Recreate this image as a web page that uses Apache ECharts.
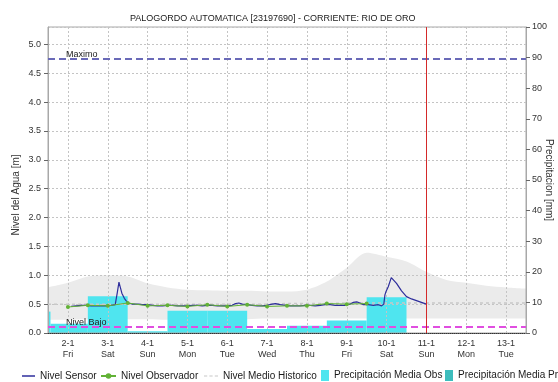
<!DOCTYPE html>
<html>
<head>
<meta charset="utf-8">
<script src="https://cdn.jsdelivr.net/npm/echarts@6/dist/echarts.min.js"></script>
<style>
  html, body { margin: 0; padding: 0; background: #ffffff; }
  #chart { width: 558px; height: 382px; }
</style>
</head>
<body>
<div id="chart"></div>
<script>
// Station: PALOGORDO AUTOMATICA, January 2015

const weekdayNames = ['Sun', 'Mon', 'Tue', 'Wed', 'Thu', 'Fri', 'Sat'];

// Water level from the automatic sensor [m]
const sensorTimes = [
  '2015-01-02 02:00', '2015-01-02 05:00', '2015-01-02 08:00', '2015-01-02 11:00', '2015-01-02 14:00',
  '2015-01-02 17:00', '2015-01-02 20:00', '2015-01-02 23:00', '2015-01-03 02:00', '2015-01-03 04:30',
  '2015-01-03 05:15', '2015-01-03 05:45', '2015-01-03 06:45', '2015-01-03 07:30', '2015-01-03 08:30',
  '2015-01-03 10:00', '2015-01-03 11:00', '2015-01-03 12:30', '2015-01-03 15:00', '2015-01-03 18:00',
  '2015-01-03 21:00', '2015-01-04 00:00', '2015-01-04 03:00', '2015-01-04 06:00', '2015-01-04 09:00',
  '2015-01-04 12:00', '2015-01-04 15:00', '2015-01-04 18:00', '2015-01-04 21:00', '2015-01-05 00:00',
  '2015-01-05 03:00', '2015-01-05 06:00', '2015-01-05 09:00', '2015-01-05 12:00', '2015-01-05 15:00',
  '2015-01-05 18:00', '2015-01-05 21:00', '2015-01-06 00:00', '2015-01-06 03:00', '2015-01-06 05:00',
  '2015-01-06 07:00', '2015-01-06 09:00', '2015-01-06 12:00', '2015-01-06 15:00', '2015-01-06 18:00',
  '2015-01-06 21:00', '2015-01-07 00:00', '2015-01-07 03:00', '2015-01-07 05:00', '2015-01-07 08:00',
  '2015-01-07 11:00', '2015-01-07 14:00', '2015-01-07 17:00', '2015-01-07 20:00', '2015-01-07 23:00',
  '2015-01-08 02:00', '2015-01-08 05:00', '2015-01-08 08:00', '2015-01-08 11:00', '2015-01-08 14:00',
  '2015-01-08 17:00', '2015-01-08 20:00', '2015-01-08 23:00', '2015-01-09 02:00', '2015-01-09 04:00',
  '2015-01-09 06:00', '2015-01-09 08:00', '2015-01-09 10:00', '2015-01-09 13:00', '2015-01-09 16:00',
  '2015-01-09 19:00', '2015-01-09 21:00', '2015-01-09 22:20', '2015-01-09 23:00', '2015-01-09 23:40',
  '2015-01-10 01:00', '2015-01-10 02:50', '2015-01-10 04:00', '2015-01-10 06:00', '2015-01-10 09:00',
  '2015-01-10 12:00', '2015-01-10 15:00', '2015-01-10 18:00', '2015-01-10 21:00', '2015-01-11 00:00'
];
const sensorLevels = [
  0.46, 0.47, 0.48, 0.48, 0.47,
  0.47, 0.47, 0.47, 0.48, 0.49,
  0.52, 0.70, 0.88, 0.80, 0.69,
  0.60, 0.56, 0.52, 0.50, 0.50,
  0.49, 0.49, 0.48, 0.47, 0.47,
  0.48, 0.48, 0.47, 0.47, 0.47,
  0.48, 0.48, 0.47, 0.48, 0.48,
  0.47, 0.47, 0.47, 0.48, 0.51,
  0.52, 0.50, 0.49, 0.48, 0.47,
  0.47, 0.48, 0.50, 0.51, 0.49,
  0.48, 0.47, 0.47, 0.47, 0.48,
  0.48, 0.47, 0.48, 0.49, 0.49,
  0.48, 0.48, 0.48, 0.50, 0.53,
  0.54, 0.52, 0.49, 0.49, 0.48,
  0.49, 0.47, 0.50, 0.66, 0.72,
  0.80, 0.96, 0.93, 0.86, 0.73,
  0.63, 0.59, 0.56, 0.53, 0.50
];

// Readings taken by the observer [m]
const observerTimes = [
  '2015-01-02 00:00', '2015-01-02 12:00', '2015-01-03 00:00', '2015-01-03 12:00',
  '2015-01-04 00:00', '2015-01-04 12:00', '2015-01-05 00:00', '2015-01-05 12:00',
  '2015-01-06 00:00', '2015-01-06 12:00', '2015-01-07 00:00', '2015-01-07 12:00',
  '2015-01-08 00:00', '2015-01-08 12:00', '2015-01-09 00:00', '2015-01-09 12:00'
];
const observerLevels = [
  0.45, 0.48, 0.47, 0.52,
  0.47, 0.48, 0.46, 0.49,
  0.46, 0.49, 0.46, 0.47,
  0.47, 0.51, 0.50, 0.51
];

// Historic mean level and its usual range [m]
const historicTimes = [
  '2015-01-01 12:00', '2015-01-02 00:00', '2015-01-02 12:00', '2015-01-03 00:00', '2015-01-03 12:00',
  '2015-01-04 00:00', '2015-01-04 12:00', '2015-01-05 00:00', '2015-01-05 12:00', '2015-01-06 00:00',
  '2015-01-06 12:00', '2015-01-07 00:00', '2015-01-07 12:00', '2015-01-08 00:00', '2015-01-08 12:00',
  '2015-01-09 00:00', '2015-01-09 12:00', '2015-01-10 00:00', '2015-01-10 12:00', '2015-01-11 00:00',
  '2015-01-11 12:00', '2015-01-12 00:00', '2015-01-12 12:00', '2015-01-13 00:00', '2015-01-13 12:00'
];
const historicMedian = [
  0.50, 0.50, 0.50, 0.50, 0.50,
  0.50, 0.50, 0.50, 0.50, 0.50,
  0.50, 0.50, 0.51, 0.51, 0.51,
  0.52, 0.52, 0.52, 0.52, 0.52,
  0.52, 0.52, 0.52, 0.52, 0.52
];
const historicLow = [
  0.23, 0.23, 0.24, 0.24, 0.24,
  0.24, 0.23, 0.23, 0.23, 0.23,
  0.24, 0.25, 0.25, 0.25, 0.25,
  0.25, 0.25, 0.25, 0.25, 0.25,
  0.25, 0.25, 0.25, 0.25, 0.25
];
const historicHigh = [
  0.79, 0.87, 0.98, 1.00, 0.98,
  0.86, 0.79, 0.75, 0.74, 0.73,
  0.73, 0.72, 0.72, 0.75, 0.89,
  1.13, 1.39, 1.32, 1.24, 1.06,
  0.92, 0.87, 0.82, 0.79, 0.77
];

// Mean observed precipitation per period [mm]
const rainStart = [
  '2015-01-01 12:00', '2015-01-01 13:30', '2015-01-02 12:00', '2015-01-03 12:00', '2015-01-04 12:00',
  '2015-01-05 12:00', '2015-01-06 12:00', '2015-01-07 12:00', '2015-01-08 12:00', '2015-01-09 12:00'
];
const rainEnd = [
  '2015-01-01 13:30', '2015-01-02 12:00', '2015-01-03 12:00', '2015-01-04 12:00', '2015-01-05 12:00',
  '2015-01-06 12:00', '2015-01-07 12:00', '2015-01-08 12:00', '2015-01-09 12:00', '2015-01-10 12:00'
];
const rainObs = [7, 3, 12, 0.6, 7.3, 7.3, 1.3, 2.4, 4.1, 11.7];

// Forecast precipitation (no periods reported)
const rainProStart = [];
const rainProEnd = [];
const rainPro = [];

// Reference levels [m] and the time of the last update
const levelMax = 4.75;
const levelLow = 0.1;
const cutoffTime = '2015-01-11 00:00';

const FONT = "'Liberation Sans', Arial, sans-serif";
const CYAN = '#4fe5ef';
const TEAL = '#3dbdbd';
const SENSOR_BLUE = '#2e2e9c';
const OBS_GREEN = '#62b236';
const HIST_GRAY = '#c8c8c8';

function pairs(times, values) {
  return times.map((t, i) => [t, values[i]]);
}
function periods(starts, ends, values) {
  return starts.map((s, i) => [s, ends[i], values[i]]);
}
function periodBar(color) {
  return function (params, api) {
    const topLeft = api.coord([api.value(0), api.value(2)]);
    const bottomRight = api.coord([api.value(1), 0]);
    const rect = echarts.graphic.clipRectByRect({
      x: topLeft[0], y: topLeft[1],
      width: bottomRight[0] - topLeft[0], height: bottomRight[1] - topLeft[1]
    }, {
      x: params.coordSys.x, y: params.coordSys.y,
      width: params.coordSys.width, height: params.coordSys.height
    });
    return rect && { type: 'rect', shape: rect, style: { fill: color } };
  };
}

const chart = echarts.init(document.getElementById('chart'), null, { renderer: 'canvas' });

const legendBase = {
  bottom: -4,
  itemHeight: 10,
  textStyle: { fontFamily: FONT, fontSize: 10, color: '#1a1a1a' },
  selectedMode: false
};

chart.setOption({
  animation: false,
  backgroundColor: '#ffffff',
  title: {
    text: 'PALOGORDO AUTOMATICA [23197690] - CORRIENTE: RIO DE ORO',
    left: 125,
    top: 9,
    textStyle: { fontFamily: FONT, fontSize: 9, fontWeight: 'normal', color: '#1a1a1a' }
  },
  legend: [
    Object.assign({}, legendBase, {
      data: [{ name: 'Nivel Sensor', icon: 'rect', itemStyle: { color: SENSOR_BLUE } }],
      left: 17, itemWidth: 13, itemHeight: 1.5
    }),
    Object.assign({}, legendBase, { data: ['Nivel Observador'], left: 95, itemWidth: 15, itemHeight: 7 }),
    Object.assign({}, legendBase, {
      data: [{
        name: 'Nivel Medio Historico',
        icon: 'path://M0,0h3v1h-3z M5,0h3v1h-3z M10,0h3v1h-3z',
        itemStyle: { color: HIST_GRAY }
      }],
      left: 199, itemWidth: 14, itemHeight: 1.5
    }),
    Object.assign({}, legendBase, { data: [{ name: 'Precipitación Media Obs', icon: 'rect' }], left: 316, itemWidth: 8, itemHeight: 11 }),
    Object.assign({}, legendBase, { data: [{ name: 'Precipitación Media Pro', icon: 'rect' }], left: 440, itemWidth: 8, itemHeight: 11 })
  ],
  grid: {
    left: 48, right: 32, top: 27, bottom: 49,
    outerBoundsMode: 'none',
    containLabel: false,
    show: true, borderColor: '#a8a8a8', borderWidth: 1
  },
  xAxis: {
    type: 'time',
    min: '2015-01-01 12:00',
    max: '2015-01-13 12:00',
    minInterval: 86400000,
    maxInterval: 86400000,
    axisLine: { show: true, lineStyle: { color: '#333', type: [1, 1], width: 1 } },
    axisTick: { show: false },
    splitLine: { show: true, lineStyle: { color: '#c4c4c4', type: [2, 2], width: 1 } },
    axisLabel: {
      showMinLabel: false,
      showMaxLabel: false,
      hideOverlap: false,
      margin: 5,
      fontFamily: FONT, fontSize: 9, lineHeight: 11, color: '#333',
      formatter: function (value) {
        const d = new Date(value);
        return d.getDate() + '-' + (d.getMonth() + 1) + '\n' + weekdayNames[d.getDay()];
      }
    }
  },
  yAxis: [
    {
      type: 'value',
      min: 0, max: 5.3, interval: 0.5,
      name: 'Nivel del Agua [m]',
      nameLocation: 'middle',
      nameGap: 27,
      nameMoveOverlap: false,
      nameTextStyle: { fontFamily: FONT, fontSize: 10, color: '#333', padding: [0, 30, 0, 0] },
      axisLine: { show: true, lineStyle: { color: '#a8a8a8' } },
      axisTick: { show: true, length: 4, lineStyle: { color: '#666' } },
      axisLabel: {
        showMaxLabel: false, margin: 7,
        fontFamily: FONT, fontSize: 9, color: '#333',
        formatter: v => v.toFixed(1)
      },
      splitLine: { show: true, lineStyle: { color: '#c4c4c4', type: [2, 2], width: 1 } }
    },
    {
      type: 'value',
      min: 0, max: 100, interval: 10,
      position: 'right',
      name: 'Precipitacion [mm]',
      nameLocation: 'middle',
      nameRotate: -90,
      nameGap: 18,
      nameMoveOverlap: false,
      nameTextStyle: { fontFamily: FONT, fontSize: 10, color: '#333' },
      axisLine: { show: true, lineStyle: { color: '#a8a8a8' } },
      axisTick: { show: true, length: 4, lineStyle: { color: '#666' } },
      axisLabel: { margin: 6, fontFamily: FONT, fontSize: 9, color: '#333' },
      splitLine: { show: false }
    }
  ],
  series: [
    {
      name: 'historic-low',
      type: 'line',
      stack: 'historic',
      z: -2,
      silent: true,
      symbol: 'none',
      smooth: 0.3,
      lineStyle: { opacity: 0 },
      data: pairs(historicTimes, historicLow)
    },
    {
      name: 'historic-range',
      type: 'line',
      stack: 'historic',
      z: -2,
      silent: true,
      symbol: 'none',
      smooth: 0.3,
      lineStyle: { opacity: 0 },
      areaStyle: { color: '#ebebeb', opacity: 1 },
      data: pairs(historicTimes, historicHigh.map((h, i) => h - historicLow[i]))
    },
    {
      name: 'Precipitación Media Obs',
      type: 'custom',
      yAxisIndex: 1,
      z: -1,
      silent: true,
      itemStyle: { color: CYAN },
      dimensions: [{ name: 'start', type: 'time' }, { name: 'end', type: 'time' }, { name: 'mm', type: 'number' }],
      encode: { x: [0, 1], y: 2 },
      renderItem: periodBar(CYAN),
      data: periods(rainStart, rainEnd, rainObs)
    },
    {
      name: 'Precipitación Media Pro',
      type: 'custom',
      yAxisIndex: 1,
      z: -1,
      silent: true,
      itemStyle: { color: TEAL },
      dimensions: [{ name: 'start', type: 'time' }, { name: 'end', type: 'time' }, { name: 'mm', type: 'number' }],
      encode: { x: [0, 1], y: 2 },
      renderItem: periodBar(TEAL),
      data: periods(rainProStart, rainProEnd, rainPro)
    },
    {
      name: 'Nivel Medio Historico',
      type: 'line',
      symbol: 'none',
      silent: true,
      color: HIST_GRAY,
      lineStyle: { color: HIST_GRAY, type: [3, 3], width: 1.5 },
      data: pairs(historicTimes, historicMedian),
      markLine: {
        silent: true,
        symbol: 'none',
        animation: false,
        data: [
          {
            yAxis: levelMax,
            lineStyle: { color: '#6a6ab8', type: [7, 4], width: 2 },
            label: {
              show: true, formatter: 'Maximo', position: 'insideStartTop', distance: [18, 0],
              fontFamily: FONT, fontSize: 9, color: '#222'
            }
          },
          {
            yAxis: levelLow,
            lineStyle: { color: '#e04ee0', type: [7, 4], width: 2 },
            label: {
              show: true, formatter: 'Nivel Bajo', position: 'insideStartTop', distance: [18, 0],
              fontFamily: FONT, fontSize: 9, color: '#222'
            }
          },
          {
            xAxis: cutoffTime,
            lineStyle: { color: '#d42a2a', type: 'solid', width: 1 },
            label: { show: false }
          }
        ]
      }
    },
    {
      name: 'Nivel Sensor',
      type: 'line',
      symbol: 'none',
      color: SENSOR_BLUE,
      lineStyle: { color: SENSOR_BLUE, width: 1.2 },
      data: pairs(sensorTimes, sensorLevels)
    },
    {
      name: 'Nivel Observador',
      type: 'line',
      symbol: 'circle',
      symbolSize: 4,
      color: OBS_GREEN,
      itemStyle: { color: OBS_GREEN },
      lineStyle: { color: OBS_GREEN, width: 1 },
      data: pairs(observerTimes, observerLevels)
    }
  ]
});
</script>
</body>
</html>
